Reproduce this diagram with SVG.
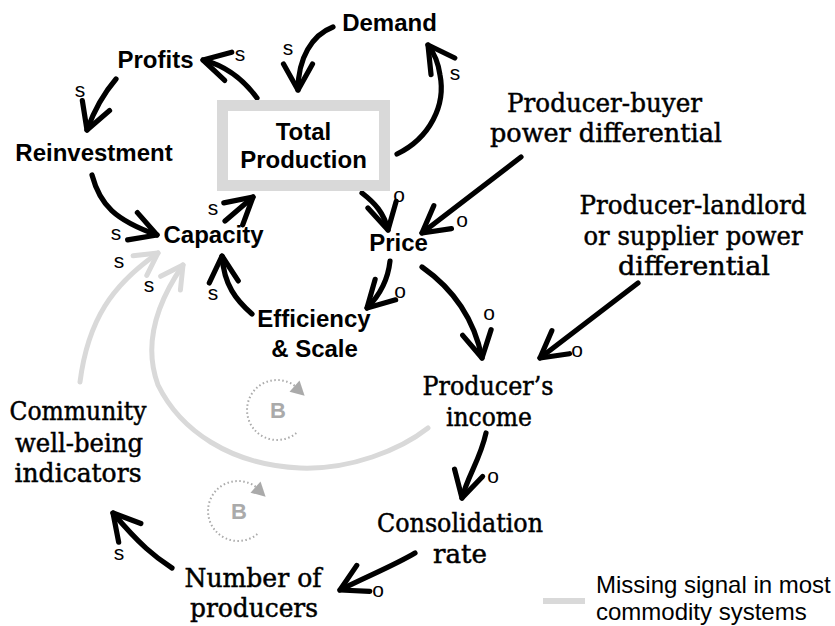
<svg xmlns="http://www.w3.org/2000/svg" width="835" height="626" viewBox="0 0 835 626">
<style>
.b{font-family:"Liberation Sans",Arial,sans-serif;font-weight:bold;font-size:24px;fill:#000;text-anchor:middle}
.r{font-family:"DejaVu Serif","Liberation Serif",serif;font-size:26px;fill:#000;stroke:#000;stroke-width:0.5;text-anchor:middle}
.l{font-family:"Liberation Sans",Arial,sans-serif;font-size:21px;fill:#000;text-anchor:middle}
.leg{font-family:"Liberation Sans",Arial,sans-serif;font-size:24px;fill:#000}
.bl{font-family:"Liberation Sans",Arial,sans-serif;font-weight:bold;font-size:22px;fill:#aaa;text-anchor:middle}
.k{fill:none;stroke:#000;stroke-width:5.2;stroke-linecap:round;marker-end:url(#ah)}
.g{fill:none;stroke:#d9d9d9;stroke-width:5;stroke-linecap:round;marker-end:url(#ag)}
.d{fill:none;stroke:#aaa;stroke-width:2;stroke-dasharray:1.5 2.5;marker-end:url(#ab)}
</style>
<defs>
<marker id="ah" markerUnits="userSpaceOnUse" viewBox="-32 -20 36 40" refX="0" refY="0" markerWidth="36" markerHeight="40" orient="auto" overflow="visible">
<path d="M-26,-14.5 L0,0 L-26,14.5" fill="none" stroke="#000" stroke-width="5.2" stroke-linejoin="round" stroke-linecap="round"/>
</marker>
<marker id="ag" markerUnits="userSpaceOnUse" viewBox="-32 -20 36 40" refX="0" refY="0" markerWidth="36" markerHeight="40" orient="auto" overflow="visible">
<path d="M-22,-12 L0,0 L-22,12" fill="none" stroke="#d9d9d9" stroke-width="5" stroke-linejoin="round" stroke-linecap="round"/>
</marker>
<marker id="ab" markerUnits="userSpaceOnUse" viewBox="-10 -10 24 20" refX="0" refY="0" markerWidth="24" markerHeight="20" orient="auto" overflow="visible">
<path d="M-3,-7 L11,1 L-3,8 Z" fill="#aaa"/>
</marker>
</defs>
<rect width="835" height="626" fill="#fff"/>

<g id="connectors">
<path class="k" d="M257,98 Q235,68 203,60"/>
<path class="k" d="M333,27 C312,35 298,58 298,90"/>
<path class="k" d="M397,154 C430,138 446,105 440,75 C438,62 435,55 428,45"/>
<path class="k" d="M116,79 Q98,100 87,130"/>
<path class="k" d="M92,175 C100,205 115,220 157,235"/>
<path class="k" d="M225,221 L253,197"/>
<path class="k" d="M362,193 C375,203 384,213 388,230"/>
<path class="k" d="M521,157 L422,233"/>
<path class="k" d="M252,314 C236,300 224,285 222,256"/>
<path class="k" d="M390,261 C388,280 380,295 367,308"/>
<path class="k" d="M422,267 C452,288 474,318 482,358"/>
<path class="k" d="M638,283 L540,358"/>
<path class="k" d="M486,433 C480,460 468,475 462,498"/>
<path class="k" d="M415,553 C395,565 370,575 340,590"/>
<path class="k" d="M172,568 C155,557 140,545 113,513"/>
<path class="g" d="M80,382 C88,320 112,285 158,253"/>
<path class="g" d="M428,428 C400,450 350,470 300,468 C230,465 180,430 158,385 C145,350 152,310 183,265"/>
<text class="l" x="240" y="61">s</text>
<text class="l" x="288" y="55">s</text>
<text class="l" x="455" y="80">s</text>
<text class="l" x="80" y="97">s</text>
<text class="l" x="116" y="240">s</text>
<text class="l" x="213" y="215">s</text>
<text class="l" x="399" y="202">o</text>
<text class="l" x="462" y="227">o</text>
<text class="l" x="213" y="300">s</text>
<text class="l" x="400" y="298">o</text>
<text class="l" x="489" y="320">o</text>
<text class="l" x="577" y="357">o</text>
<text class="l" x="493" y="483">o</text>
<text class="l" x="378" y="597">o</text>
<text class="l" x="119" y="560">s</text>
<text class="l" x="119" y="268">s</text>
<text class="l" x="149" y="292">s</text>
</g>

<g id="loop-b1">
<path class="d" d="M296.3,433 A30,30 0 1 1 297.1,387.7"/>
<text class="bl" x="278" y="418">B</text>
</g>
<g id="loop-b2">
<path class="d" d="M257.3,534 A30,30 0 1 1 258.1,488.7"/>
<text class="bl" x="239" y="519">B</text>
</g>

<g id="total-production">
<rect x="222.5" y="105.5" width="162" height="80" fill="#fff" stroke="#d9d9d9" stroke-width="11"/>
<text class="b" x="303.5" y="140">Total</text>
<text class="b" x="303.5" y="168">Production</text>
</g>
<g id="demand"><text class="b" x="389.5" y="31">Demand</text></g>
<g id="profits"><text class="b" x="155.5" y="68">Profits</text></g>
<g id="reinvestment"><text class="b" x="94" y="161">Reinvestment</text></g>
<g id="capacity"><text class="b" x="213.5" y="243">Capacity</text></g>
<g id="price"><text class="b" x="398.5" y="251">Price</text></g>
<g id="efficiency-scale">
<text class="b" x="314" y="327">Efficiency</text>
<text class="b" x="314.5" y="357">&amp; Scale</text>
</g>
<g id="producer-buyer">
<text class="r" x="604.5" y="112" textLength="195" lengthAdjust="spacingAndGlyphs">Producer-buyer</text>
<text class="r" x="606" y="142" textLength="232" lengthAdjust="spacingAndGlyphs">power differential</text>
</g>
<g id="producer-landlord">
<text class="r" x="693" y="214" textLength="227" lengthAdjust="spacingAndGlyphs">Producer-landlord</text>
<text class="r" x="693" y="245" textLength="219" lengthAdjust="spacingAndGlyphs">or supplier power</text>
<text class="r" x="694" y="275" textLength="152" lengthAdjust="spacingAndGlyphs">differential</text>
</g>
<g id="producers-income">
<text class="r" x="488" y="395" textLength="131" lengthAdjust="spacingAndGlyphs">Producer’s</text>
<text class="r" x="489" y="426" textLength="86" lengthAdjust="spacingAndGlyphs">income</text>
</g>
<g id="consolidation-rate">
<text class="r" x="460" y="532" textLength="166" lengthAdjust="spacingAndGlyphs">Consolidation</text>
<text class="r" x="460" y="563" textLength="54" lengthAdjust="spacingAndGlyphs">rate</text>
</g>
<g id="number-of-producers">
<text class="r" x="253" y="587" textLength="137" lengthAdjust="spacingAndGlyphs">Number of</text>
<text class="r" x="254" y="617" textLength="128" lengthAdjust="spacingAndGlyphs">producers</text>
</g>
<g id="community">
<text class="r" x="78" y="420" textLength="137" lengthAdjust="spacingAndGlyphs">Community</text>
<text class="r" x="79" y="452" textLength="128" lengthAdjust="spacingAndGlyphs">well-being</text>
<text class="r" x="78" y="482" textLength="127" lengthAdjust="spacingAndGlyphs">indicators</text>
</g>
<g id="legend">
<line x1="543" y1="601" x2="585" y2="601" stroke="#d9d9d9" stroke-width="6"/>
<text class="leg" x="596" y="593">Missing signal in most</text>
<text class="leg" x="596" y="620">commodity systems</text>
</g>
</svg>
